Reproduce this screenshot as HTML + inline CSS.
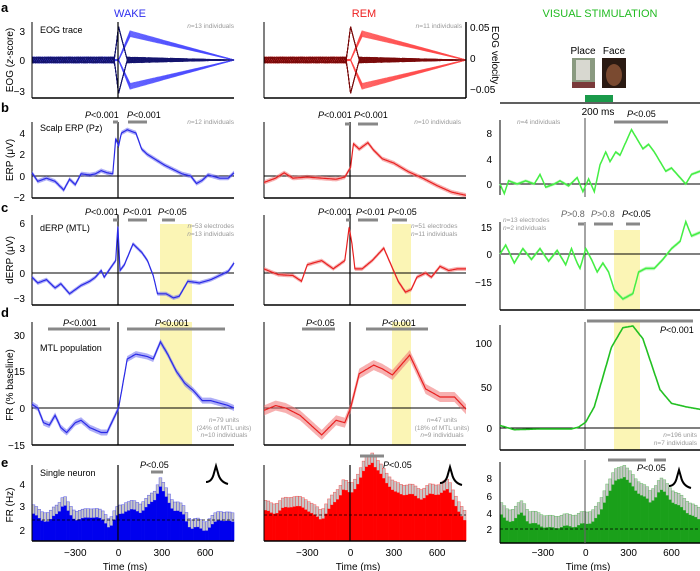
<!DOCTYPE html>
<html><head><meta charset="utf-8"><style>
body{margin:0;background:#fff}
svg{display:block;font-family:"Liberation Sans",sans-serif}
</style></head><body>
<svg id="s" width="700" height="571" viewBox="0 0 700 571" xmlns="http://www.w3.org/2000/svg"></svg>
<script>
const S=document.getElementById('s');let H='';
const X0={W:32,R:264,V:500};
function X(c,t){return X0[c]+(t+600)*(c=='V'?0.1429:0.1443);}
function interp(p,t){for(let i=0;i<p.length-1;i++){if(t>=p[i][0]&&t<=p[i+1][0]){const f=(t-p[i][0])/(p[i+1][0]-p[i][0]);return p[i][1]+f*(p[i+1][1]-p[i][1]);}}return t<p[0][0]?p[0][1]:p[p.length-1][1];}
function curve(c,pts,yf,col,band,bcol,wid){
 let up=[],dn=[],ln=[];
 for(let t=-600;t<=800;t+=5){const v=interp(pts,t);const x=X(c,t).toFixed(1);const y=yf(v);ln.push(x+','+y.toFixed(1));up.push(x+','+(y-band).toFixed(1));dn.unshift(x+','+(y+band).toFixed(1));}
 if(band>0)H+=`<polygon points="${up.join(' ')} ${dn.join(' ')}" fill="${bcol}" opacity="0.55"/>`;
 H+=`<polyline points="${ln.join(' ')}" fill="none" stroke="${col}" stroke-width="${wid||1.2}"/>`;}
function L(x1,y1,x2,y2,c,w,extra){H+=`<line x1="${x1}" y1="${y1}" x2="${x2}" y2="${y2}" stroke="${c||'#000'}" stroke-width="${w||1}" ${extra||''}/>`;}
function T(x,y,s,sz,col,anc,extra){H+=`<text x="${x}" y="${y}" font-size="${sz}" fill="${col||'#000'}" text-anchor="${anc||'start'}" ${extra||''}>${s}</text>`;}
function R(x,y,w,h,c,o){H+=`<rect x="${x}" y="${y}" width="${w}" height="${h}" fill="${c}" ${o?'opacity="'+o+'"':''}/>`;}
R(160,224,32,81,'#fbf5b5');R(160,322,32,123,'#fbf5b5');
R(392,224,19,81,'#fbf5b5');R(392,322,19,123,'#fbf5b5');
R(614,230,26,80,'#fbf5b5');R(614,322,26,128,'#fbf5b5');
T(130,17,'WAKE',11,'#3030ee','middle');T(364,17,'REM',11,'#ee2020','middle');T(600,17,'VISUAL STIMULATION',11,'#22bb22','middle');
[['a',12],['b',112],['c',212],['d',317],['e',467]].forEach(p=>T(1,p[1],p[0],13,'#000','start','font-weight="bold"'));
function eog(c,light,dark){
 for(let i=0;i<8;i++){for(const sg of [1,-1]){const A=sg*(2.4+i*0.08);let pts=[];
  for(let t=-600;t<=800;t+=10){let v;if(t<0)v=0.3*Math.sin(t*0.05+i)*((t>-40)?0.2:1);else if(t<80)v=A*t/80;else v=A*(800-t)/720;pts.push(X(c,t).toFixed(1)+','+(60-v*9.8).toFixed(1));}
  H+=`<polyline points="${pts.join(' ')}" fill="none" stroke="${light}" stroke-width="1" opacity="0.8"/>`;}}
 for(let i=0;i<7;i++){for(const sg of [1,-1]){let pts=[];
  for(let t=-600;t<=800;t+=8){let v;if(t<-30)v=0.3*Math.sin(t*0.09+i*1.3);else if(t<=0)v=sg*3.4*(t+30)/30;else if(t<60)v=sg*3.4*(60-t)/60;else v=0.3*Math.sin(t*0.11+i)*(800-t)/740;pts.push(X(c,t).toFixed(1)+','+(60-v*9.8).toFixed(1));}
  H+=`<polyline points="${pts.join(' ')}" fill="none" stroke="${dark}" stroke-width="0.9"/>`;}}}
eog('W','#4a4aff','#14146e');eog('R','#ff4a4a','#7a0a0a');
L(32,22,32,98);L(32,98,234,98,'#000',1.5);L(118,22,118,98,'#000',1.2);
L(264,22,264,98);L(264,98,466,98,'#000',1.5);L(466,22,466,98,'#000',1.5);
T(25,35,'3',10,'#000','end');T(25,64,'0',10,'#000','end');T(25,95,'−3',10,'#000','end');
T(470,31,'0.05',10);T(470,62,'0',10);T(470,93,'−0.05',10);
T(40,33,'EOG trace',9);T(234,28,'<tspan font-style="italic">n</tspan>=13 individuals',6.5,'#999','end');T(462,28,'<tspan font-style="italic">n</tspan>=11 individuals',6.5,'#999','end');
H+=`<text transform="translate(13,60) rotate(-90)" font-size="10" text-anchor="middle">EOG (<tspan font-style="italic">z</tspan>-score)</text>`;
H+=`<text transform="translate(492,55) rotate(90)" font-size="10" text-anchor="middle">EOG velocity</text>`;
T(583,54,'Place',10,'#000','middle');T(614,54,'Face',10,'#000','middle');
R(572,58,23,30,'#8a9a80');R(576,60,14,20,'#d8d8d0');R(572,82,23,6,'#7a3a3a');
R(602,58,24,30,'#2a1a12');H+=`<ellipse cx="614" cy="75" rx="8" ry="11" fill="#7a4a30"/>`;
R(585,95,28,7,'#1a9a4a');L(500,103,700,103,'#000',1.2);T(598,115,'200 ms',10,'#000','middle');
const yb=v=>176-v*10.75;
L(32,122,32,198);L(32,198,234,198,'#000',1.5);L(118,122,118,198,'#000',1.2);L(32,176,234,176);
L(264,122,264,198);L(264,198,466,198,'#000',1.5);L(350,122,350,198,'#000',1.2);L(264,176,466,176);
T(25,137,'4',10,'#000','end');T(25,158,'2',10,'#000','end');T(25,180,'0',10,'#000','end');T(25,201,'−2',10,'#000','end');
curve('W',[[-600,0.3],[-560,-0.5],[-500,-0.2],[-440,-0.5],[-380,-1.3],[-340,-0.3],[-300,-0.8],[-260,0.2],[-200,0.1],[-160,0.2],[-120,0.5],[-80,0.3],[-40,0.2],[-20,3.5],[0,2.8],[20,4.0],[60,4.3],[120,4.0],[160,2.5],[200,2.0],[260,1.5],[320,1.0],[380,0.6],[440,0.2],[500,0],[540,-0.7],[580,-0.4],[620,0.1],[700,-0.2],[760,-0.2],[800,0.3]],yb,'#2a2ae6',2.2,'#6a6af0');
curve('R',[[-600,-0.6],[-520,-0.2],[-460,0.3],[-400,-0.2],[-300,-0.1],[-200,-0.2],[-100,-0.3],[-40,-0.1],[0,0.8],[20,3.0],[60,2.5],[120,3.1],[160,2.4],[220,1.6],[300,1.2],[400,0.4],[500,-0.2],[600,-0.9],[700,-1.5],[800,-1.8]],yb,'#e82020',2.2,'#f07070');
const yvb=v=>184-v*6.4;
L(500,120,500,195);L(585,118,585,197,'#666',1.2);L(500,184,700,184);
T(492,137,'8',10,'#000','end');T(492,163,'4',10,'#000','end');T(492,188,'0',10,'#000','end');
curve('V',[[-600,0],[-570,-1.5],[-540,0.5],[-480,0],[-420,0.5],[-360,0],[-320,1.5],[-280,-0.5],[-220,0],[-180,0.5],[-120,-0.3],[-60,1],[-20,-1.2],[20,0.8],[60,-1.2],[100,3],[140,5],[170,3.5],[210,5],[240,4.5],[280,6.5],[320,8.5],[360,7],[400,5.5],[440,6.2],[480,5],[520,3.5],[560,2],[600,2.5],[660,1],[700,0],[740,1.5],[800,2]],yvb,'#44ee44',1.5,'#88f088',1.5);
T(40,131,'Scalp ERP (Pz)',9);
T(234,124,'<tspan font-style="italic">n</tspan>=12 individuals',6.5,'#999','end');T(461,124,'<tspan font-style="italic">n</tspan>=10 individuals',6.5,'#999','end');T(517,124,'<tspan font-style="italic">n</tspan>=4 individuals',6.5,'#999');
H+=`<text transform="translate(13,160) rotate(-90)" font-size="10" text-anchor="middle">ERP (μV)</text>`;
function P(x,y,s,sz){T(x,y,'<tspan font-style="italic">P</tspan>'+s,sz||9);}
function B(x1,x2,y){L(x1,y,x2,y,'#888',3);}
P(85,118,'&lt;0.001');B(113,118,122);P(127,118,'&lt;0.001');B(128,147,122);
P(318,118,'&lt;0.001');B(345,350,124);P(354,118,'&lt;0.001');B(358,378,124);
P(627,117,'&lt;0.05');B(614,668,122);
const yc=v=>273-v*8.3;
L(32,215,32,305);L(32,305,234,305,'#000',1.5);L(118,215,118,305,'#000',1.2);L(32,273,234,273);
L(264,215,264,305);L(264,305,466,305,'#000',1.5);L(350,215,350,305,'#000',1.2);L(264,273,466,273);
T(25,227,'6',10,'#000','end');T(25,252,'3',10,'#000','end');T(25,277,'0',10,'#000','end');T(25,302,'−3',10,'#000','end');
curve('W',[[-600,-0.5],[-560,-1.2],[-500,-0.8],[-440,-1.8],[-400,-1.3],[-340,-2.5],[-300,-2.0],[-260,-1.5],[-200,-1.0],[-160,-0.5],[-120,0.3],[-100,-0.5],[-60,0.5],[-20,1.5],[-5,5.6],[10,0.3],[40,1.0],[100,3.5],[160,2.5],[200,1.5],[240,-0.3],[270,-2.5],[330,-2.5],[380,-3],[420,-2.8],[480,-1],[560,-1.2],[640,-0.8],[700,-0.3],[760,0.2],[800,1.2]],yc,'#2a2ae6',2,'#6a6af0');
curve('R',[[-600,0.5],[-560,0.2],[-500,-0.2],[-400,-0.3],[-340,-1.0],[-300,1.0],[-200,1.5],[-120,0.5],[-40,1.5],[-10,5.5],[10,3.5],[30,0.5],[80,0.5],[150,1.5],[230,3],[280,1.0],[330,-1.0],[380,-2.3],[420,-2],[460,-0.5],[520,0],[560,-0.5],[620,0.8],[680,0.3],[740,0.5],[800,0.5]],yc,'#e82020',2,'#f07070');
const yvc=v=>254-v*1.8;
L(500,222,500,310);L(500,310,700,310,'#000',1.5);L(585,222,585,310,'#666',1.2);L(500,254,700,254);
T(492,231,'15',10,'#000','end');T(492,258,'0',10,'#000','end');T(492,286,'−15',10,'#000','end');
curve('V',[[-600,0],[-560,5],[-500,-5],[-440,3],[-380,-3],[-320,3],[-260,-4],[-200,2],[-140,-6],[-100,3],[-60,-5],[-40,-8],[0,3],[40,-3],[80,-10],[120,-5],[160,-10],[200,-20],[260,-25],[330,-22],[370,-10],[420,-8],[480,-8],[540,-3],[600,3],[660,7],[700,18],[740,10],[800,12]],yvc,'#44ee44',1.8,'#88f088',1.5);
T(40,231,'dERP (MTL)',9);
T(234,228,'<tspan font-style="italic">n</tspan>=53 electrodes',6.5,'#999','end');T(234,236,'<tspan font-style="italic">n</tspan>=13 individuals',6.5,'#999','end');
T(411,228,'<tspan font-style="italic">n</tspan>=51 electrodes',6.5,'#999');T(411,236,'<tspan font-style="italic">n</tspan>=11 individuals',6.5,'#999');
T(503,222,'<tspan font-style="italic">n</tspan>=13 electrodes',6.5,'#999');T(503,230,'<tspan font-style="italic">n</tspan>=2 individuals',6.5,'#999');
H+=`<text transform="translate(13,260) rotate(-90)" font-size="10" text-anchor="middle">dERP (μV)</text>`;
P(85,215,'&lt;0.001');B(113,118,220);P(123,215,'&lt;0.01');B(128,147,220);P(158,215,'&lt;0.05');B(162,175,220);
P(318,215,'&lt;0.001');B(346,350,220);P(356,215,'&lt;0.01');B(358,378,220);P(388,215,'&lt;0.05');B(392,407,220);
H+=`<text x="561" y="217" font-size="9" fill="#666"><tspan font-style="italic">P</tspan>&gt;0.8</text><text x="591" y="217" font-size="9" fill="#666"><tspan font-style="italic">P</tspan>&gt;0.8</text>`;
B(578,584,224);B(594,613,224);P(622,217,'&lt;0.05');B(626,640,224);
const yd=v=>408-v*2.45;
L(32,322,32,445);L(32,445,234,445,'#000',1.5);L(118,322,118,445,'#000',1.2);L(32,408,234,408);
L(264,322,264,445);L(264,445,466,445,'#000',1.5);L(350,322,350,445,'#000',1.2);L(264,408,466,408);
T(25,339,'30',10,'#000','end');T(25,375,'15',10,'#000','end');T(25,412,'0',10,'#000','end');T(25,449,'−15',10,'#000','end');
curve('W',[[-600,1.5],[-560,0],[-520,-6],[-480,-7],[-440,-3],[-400,-8],[-360,-10],[-300,-6],[-260,-5],[-200,-8],[-160,-9],[-120,-10],[-80,-10],[0,0],[60,20],[120,22],[200,21],[240,20],[290,27],[340,22],[400,15],[460,10],[520,7],[580,3],[640,3],[700,2],[760,1],[800,0]],yd,'#2a2ae6',3,'#6a6af0');
curve('R',[[-600,-1],[-520,1],[-450,0],[-350,-3],[-200,-11],[-100,-5],[-40,-6],[0,0],[60,14],[160,17.5],[220,16],[290,13.5],[410,21.6],[520,7.8],[620,4.5],[720,4.5],[800,-0.5]],yd,'#e82020',5,'#f07070');
const yvd=v=>428-v*0.85;
L(500,325,500,450);L(500,450,700,450,'#000',1.5);L(585,322,585,450,'#666',1.2);L(500,428,700,428);
T(492,347,'100',10,'#000','end');T(492,391,'50',10,'#000','end');T(492,432,'0',10,'#000','end');
curve('V',[[-600,3],[-500,-2],[-300,-1],[-100,-1],[-50,1],[0,7],[60,25],[120,60],[180,95],[260,118],[330,120],[400,105],[460,75],[520,45],[600,29],[700,25],[800,22]],yvd,'#22c022',0,'',1.6);
T(40,351,'MTL population',9);
H+=`<text x="224" y="422" font-size="6.5" fill="#999" text-anchor="middle"><tspan font-style="italic">n</tspan>=79 units</text><text x="224" y="430" font-size="6.5" fill="#999" text-anchor="middle">(24% of MTL units)</text><text x="224" y="437" font-size="6.5" fill="#999" text-anchor="middle"><tspan font-style="italic">n</tspan>=10 individuals</text>`;
H+=`<text x="442" y="422" font-size="6.5" fill="#999" text-anchor="middle"><tspan font-style="italic">n</tspan>=47 units</text><text x="442" y="430" font-size="6.5" fill="#999" text-anchor="middle">(18% of MTL units)</text><text x="442" y="437" font-size="6.5" fill="#999" text-anchor="middle"><tspan font-style="italic">n</tspan>=9 individuals</text>`;
T(697,437,'<tspan font-style="italic">n</tspan>=196 units',6.5,'#999','end');T(697,445,'<tspan font-style="italic">n</tspan>=7 individuals',6.5,'#999','end');
H+=`<text transform="translate(13,385) rotate(-90)" font-size="10" text-anchor="middle">FR (% baseline)</text>`;
P(63,326,'&lt;0.001');B(48,110,329);P(155,326,'&lt;0.001');B(127,225,329);
P(306,326,'&lt;0.05');B(302,335,329);P(382,326,'&lt;0.001');B(366,428,329);
B(587,693,321);P(660,333,'&lt;0.001');
function hist(c,pts,col,cap,base,dash){
 const bw=(c=='V'?0.1429:0.1443)*20;
 for(let t=-600;t<800;t+=20){const x=X(c,t);const n=Math.sin(t*0.37)*1.2+Math.sin(t*1.3)*0.8;const top=interp(pts,t+10)+n;
  R(x,top-cap,bw,cap,'#c8c8c8');H+=`<rect x="${x.toFixed(1)}" y="${(top-cap).toFixed(1)}" width="${bw.toFixed(1)}" height="${cap}" fill="none" stroke="${col}" stroke-width="0.5" opacity="0.6"/>`;
  R(x,top,bw+0.3,base-top,col);}
 L(X(c,-600),dash,X(c,800),dash,'#000',0.7,'stroke-dasharray="3,2"');}
hist('W',[[-600,515],[-540,518],[-480,523],[-400,508],[-380,503],[-340,515],[-300,520],[-200,517],[-100,520],[-60,528],[0,515],[50,510],[150,512],[250,500],[290,487],[330,497],[380,510],[450,515],[500,528],[600,530],[700,520],[800,522]],'#0000ee',9,541,520);
hist('R',[[-600,512],[-500,512],[-400,505],[-300,510],[-200,520],[-100,500],[-50,490],[0,495],[100,470],[150,462],[250,483],[300,492],[500,498],[680,490],[760,515],[800,522]],'#ff0000',10,541,515);
hist('V',[[-600,515],[-560,520],[-500,520],[-440,513],[-400,522],[-300,527],[-200,528],[-100,526],[0,525],[50,520],[100,515],[150,495],[200,482],[270,477],[350,490],[450,503],[520,490],[600,500],[700,512],[800,520]],'#1aa01a',12,543,529);
L(32,465,32,541);L(32,541,234,541,'#000',1.5);L(118,465,118,541,'#000',1.2);
L(264,465,264,541);L(264,541,466,541,'#000',1.5);L(350,465,350,541,'#000',1.2);
L(500,462,500,543);L(500,543,700,543,'#000',1.5);L(585,460,585,543,'#666',1.2);
T(25,488,'4',10,'#000','end');T(25,510,'3',10,'#000','end');T(25,534,'2',10,'#000','end');
T(492,482,'8',10,'#000','end');T(492,500,'6',10,'#000','end');T(492,517,'4',10,'#000','end');T(492,533,'2',10,'#000','end');
T(40,476,'Single neuron',9);
H+=`<text transform="translate(13,505) rotate(-90)" font-size="10" text-anchor="middle">FR (Hz)</text>`;
P(140,468,'&lt;0.05');B(151,163,472);B(360,384,456);P(383,468,'&lt;0.05');B(608,646,460);B(654,666,460);P(637,471,'&lt;0.05');
function spike(x,y){H+=`<path d="M${x-10},${y+12} Q${x-4},${y+12} ${x-2},${y+3} L${x},${y-4} L${x+2},${y+3} Q${x+4},${y+12} ${x+12},${y+14}" fill="none" stroke="#000" stroke-width="2"/>`;}
spike(216,470);spike(450,471);spike(679,474);
['W','R','V'].forEach(c=>{[-300,0,300,600].forEach(t=>T(X(c,t),556,t<0?'−300':t,10,'#000','middle'));});
T(125,570,'Time (ms)',10,'#000','middle');T(358,570,'Time (ms)',10,'#000','middle');T(588,570,'Time (ms)',10,'#000','middle');
S.innerHTML=H;
</script>
</body></html>
